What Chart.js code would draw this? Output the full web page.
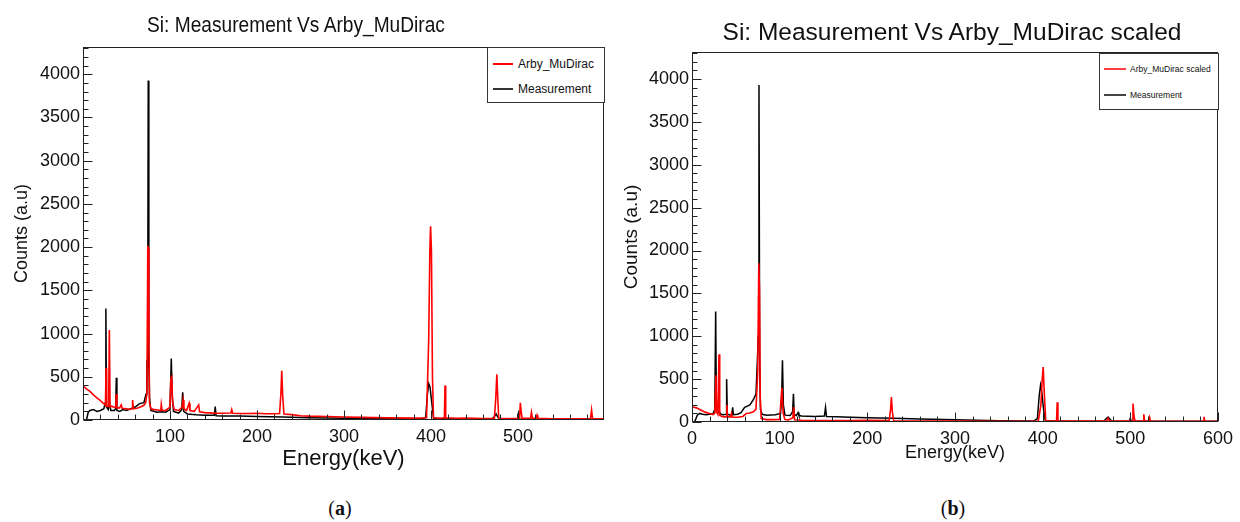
<!DOCTYPE html>
<html><head><meta charset="utf-8">
<script src="https://cdn.jsdelivr.net/npm/chart.js@4.4.0/dist/chart.umd.min.js"></script>
<style>
body{margin:0;background:#fff;width:1240px;height:522px;position:relative;overflow:hidden;font-family:"Liberation Sans",Arial,sans-serif;color:#111;}
.wrap{position:absolute;top:0;width:620px;height:480px;}
.title{position:absolute;font-size:21px;white-space:nowrap;color:#111;}
.legend{position:absolute;background:#fff;border:1px solid #333;box-sizing:border-box;}
.legend .ln{position:absolute;height:1.5px;}
.legend .tx{position:absolute;white-space:nowrap;transform:translateY(-50%);color:#111;}
.cap{position:absolute;font-family:"Liberation Serif","Times New Roman",serif;font-size:20px;transform:translate(-50%,-50%);color:#111;}
</style>
</head><body>
<div class="wrap" style="left:0"><canvas id="ca" width="620" height="480"></canvas></div>
<div class="wrap" style="left:620px"><canvas id="cb" width="620" height="480"></canvas></div>

<div class="title" style="left:296px;top:25px;font-size:22px;transform:translate(-50%,-50%) scaleX(0.87)">Si: Measurement Vs Arby_MuDirac</div>
<div class="title" style="left:952px;top:32px;font-size:24.5px;transform:translate(-50%,-50%)">Si: Measurement Vs Arby_MuDirac scaled</div>

<div class="legend" style="left:487px;top:47px;width:118px;height:56px;">
  <div class="ln" style="left:5px;width:20px;top:15px;background:#ff0000"></div>
  <div class="tx" style="left:30px;top:16px;font-size:12px">Arby_MuDirac</div>
  <div class="ln" style="left:5px;width:20px;top:40px;background:#333"></div>
  <div class="tx" style="left:30px;top:41px;font-size:12px">Measurement</div>
</div>
<div class="legend" style="left:1099px;top:53px;width:120px;height:57px;">
  <div class="ln" style="left:4px;width:22px;top:14px;background:#ff4040"></div>
  <div class="tx" style="left:30px;top:15px;font-size:8.5px">Arby_MuDirac scaled</div>
  <div class="ln" style="left:4px;width:22px;top:40px;background:#444"></div>
  <div class="tx" style="left:30px;top:41px;font-size:8.5px">Measurement</div>
</div>

<div class="cap" style="left:340px;top:508px">(<b>a</b>)</div>
<div class="cap" style="left:953px;top:508px">(<b>b</b>)</div>

<script>
// ---------- DATA ----------
// Panel (a): Arby_MuDirac (red)
const arbyE_a = [1,4,8,12,16,20,23,25,25.8,26.5,27.2,29.5,30.3,31.1,33,35,37.5,38.2,39,42,44,45,50,53,56.5,57,58,62,66,70,72,73.5,74.5,75.3,75.8,76.5,78,82,86,89.5,90,91,95,100,101,102,103,105,110,114,115,116,119,122,123,128,133,134,140,150,160,170,171,172,180,190,200,210,220,226,227.5,228.5,229.5,231,240,250,260,280,300,320,350,380,395,397.5,398.8,399.6,400.6,401.8,403,410,415.5,416.2,417,430,440,460,473,474.5,475.8,477,478,490,502,502.8,504,505,514.5,515.6,516.7,521,522,523,540,570,583.5,584.7,585.8,599];
const arbyC_a = [385,360,330,290,255,225,195,180,170,600,160,160,1040,150,160,150,145,300,140,140,175,135,130,125,130,230,130,135,150,170,200,300,2000,1990,870,200,130,120,115,110,180,110,110,150,480,500,200,120,110,150,230,130,110,195,110,100,175,95,85,80,78,80,120,78,75,75,78,72,72,75,300,570,300,70,62,50,45,40,35,30,25,22,25,950,1970,2240,1960,490,25,20,25,400,25,20,22,18,20,240,530,220,20,18,20,200,80,20,20,90,20,20,55,20,15,15,15,115,15,15];
// Panel (a): Measurement (black)
const measE_a = [4,6,8,12,16,20,24,25.5,26.3,27,29,30.3,32,36,37.5,38.3,39,42,46,50,55,60,65,70,72.5,73.5,74.3,75,75.7,76.5,78,85,90,95,100,101.5,102.5,104,110,113.5,114.6,115.8,120,130,140,151,152,153,160,180,200,230,260,300,350,390,394,396,397.5,399,401,403,420,470,473,475,477,479,499,500,501,599];
const measC_a = [0,90,110,120,100,110,130,200,1290,150,120,200,110,110,130,490,110,100,120,110,130,150,190,200,300,690,600,3926,700,250,110,90,95,90,120,710,300,100,80,120,320,100,70,60,55,55,155,50,45,45,40,35,25,20,15,15,30,300,420,380,200,20,12,12,40,70,30,10,10,40,10,10];

// Panel (b): Arby_MuDirac scaled (red)
const arbyE_b = [1,5,10,15,20,24,26,27.3,28,29.5,30.8,31.6,33,36,39.2,39.8,40.5,44,45,46,52,58,62,66,70,73,75,76.2,77,77.8,79,85,92,100,102.5,104,106,110,115,116,117,125,135,150,180,200,225,226.5,227.5,228.5,230,260,300,350,395,398,399.5,400.6,401.8,403.5,415.8,416.6,417.4,473,474.7,476.5,502,503,504.3,505.5,514.5,515.4,516.3,521,522,523,583,584,585,600];
const arbyC_b = [175,165,140,115,100,85,100,545,120,90,790,80,70,60,60,200,60,60,100,55,55,65,100,105,120,150,600,1850,1540,300,40,28,28,30,400,100,30,25,50,175,25,20,18,18,18,20,18,150,290,120,15,12,10,8,10,200,500,640,350,10,10,230,10,10,45,10,10,215,60,10,10,90,10,10,55,10,8,60,8,8];
// Panel (b): Measurement (black)
const measE_b = [3,6,9,12,16,20,24,26,27,27.8,29,31,33,36,38.8,39.5,40.3,44,45.5,46.4,47.2,52,56,60,62,66,70,73,74.5,75.6,76.4,77.2,78,80,85,95,101,102.3,103.2,104.2,106,112,114.8,115.7,116.6,119,121,122,125,140,151,152.3,153.4,165,180,200,230,260,300,350,390,394,396,397.6,399,401,403,420,470,472.5,474.7,477,479,499,500,501,600];
const measC_b = [0,80,100,90,85,90,95,150,1290,200,110,120,90,85,90,500,90,80,80,170,85,90,110,170,180,200,260,330,700,1000,3930,720,150,90,80,85,100,300,720,200,80,75,120,330,90,75,110,75,70,65,70,170,65,60,55,50,45,35,25,15,12,40,300,430,350,150,15,10,12,40,58,30,10,10,45,10,8];

// Tick label values
const xTicks_a = [100,200,300,400,500];
const xTicks_b = [0,100,200,300,400,500,600];
const yTicks = [0,500,1000,1500,2000,2500,3000,3500,4000];

// ---------- CHARTS ----------
const FONT = '"Liberation Sans", Arial, sans-serif';
const pts = (E, C) => E.map((e, i) => ({x: e, y: C[i]}));

const rootAxes = {
  id: 'rootAxes',
  afterDatasetsDraw(chart) {
    const {ctx, chartArea: a, scales: {x, y}} = chart;
    ctx.save();
    ctx.strokeStyle = '#222';
    ctx.lineWidth = 1;
    const L = Math.round(a.left) + 0.5, R = Math.round(a.right) - 0.5;
    const T = Math.round(a.top) + 0.5, B = Math.round(a.bottom) - 0.5;
    ctx.strokeRect(L, T, R - L, B - T);
    ctx.beginPath();
    for (let v = 0; v <= x.max + 1e-6; v += 20) {
      if (v < x.min) continue;
      const px = Math.round(x.getPixelForValue(v)) + 0.5;
      const len = (v % 100 === 0) ? 9 : 5;
      ctx.moveTo(px, B); ctx.lineTo(px, B - len);
    }
    for (let v = 0; v <= y.max + 1e-6; v += 100) {
      const py = Math.round(y.getPixelForValue(v)) + 0.5;
      const len = (v % 500 === 0) ? 9 : 5;
      ctx.moveTo(L, py); ctx.lineTo(L + len, py);
    }
    ctx.stroke();
    ctx.restore();
  }
};

function makeChart(id, cfg) {
  return new Chart(document.getElementById(id), {
    type: 'line',
    data: {
      datasets: [
        {data: cfg.red, borderColor: '#ff0000', borderWidth: 1.6, pointRadius: 0, tension: 0, fill: false},
        {data: cfg.black, borderColor: '#000000', borderWidth: 1.5, pointRadius: 0, tension: 0, fill: false}
      ]
    },
    options: {
      responsive: false, animation: false, events: [],
      layout: {padding: {top: cfg.top, right: cfg.right, bottom: 0, left: 0}},
      plugins: {legend: {display: false}, title: {display: false}, tooltip: {enabled: false}},
      scales: {
        x: {
          type: 'linear', min: 0, max: cfg.xmax,
          grid: {display: false, drawTicks: false}, border: {display: false},
          afterBuildTicks: s => { s.ticks = cfg.xTicks.map(v => ({value: v})); },
          afterFit: s => { s.height = cfg.xh; },
          ticks: {padding: 6, color: '#111', font: {size: 18, family: FONT}, maxRotation: 0, autoSkip: false, callback: v => String(v)},
          title: {display: true, text: 'Energy(keV)', color: '#111', font: {size: cfg.xtSize, family: FONT}, padding: {top: 0, bottom: cfg.xtPad}}
        },
        y: {
          type: 'linear', min: 0, max: 4315,
          grid: {display: false, drawTicks: false}, border: {display: false},
          afterBuildTicks: s => { s.ticks = yTicks.map(v => ({value: v})); },
          afterFit: s => { s.width = cfg.yw; },
          ticks: {padding: 3, color: '#111', font: {size: 18, family: FONT}, autoSkip: false, callback: v => String(v)},
          title: {display: true, text: 'Counts (a.u)', color: '#111', font: {size: cfg.ytSize, family: FONT}, padding: {top: cfg.ytPad, bottom: 0}}
        }
      }
    },
    plugins: [rootAxes]
  });
}

makeChart('ca', {red: pts(arbyE_a, arbyC_a), black: pts(measE_a, measC_a), xmax: 599, xTicks: xTicks_a,
  top: 47, right: 16, xh: 60, yw: 83, xtSize: 22, xtPad: 8, ytSize: 18, ytPad: 11});
makeChart('cb', {red: pts(arbyE_b, arbyC_b), black: pts(measE_b, measC_b), xmax: 600, xTicks: xTicks_b,
  top: 52, right: 22, xh: 58, yw: 72, xtSize: 18, xtPad: 16, ytSize: 19, ytPad: 0});
</script>
</body></html>
